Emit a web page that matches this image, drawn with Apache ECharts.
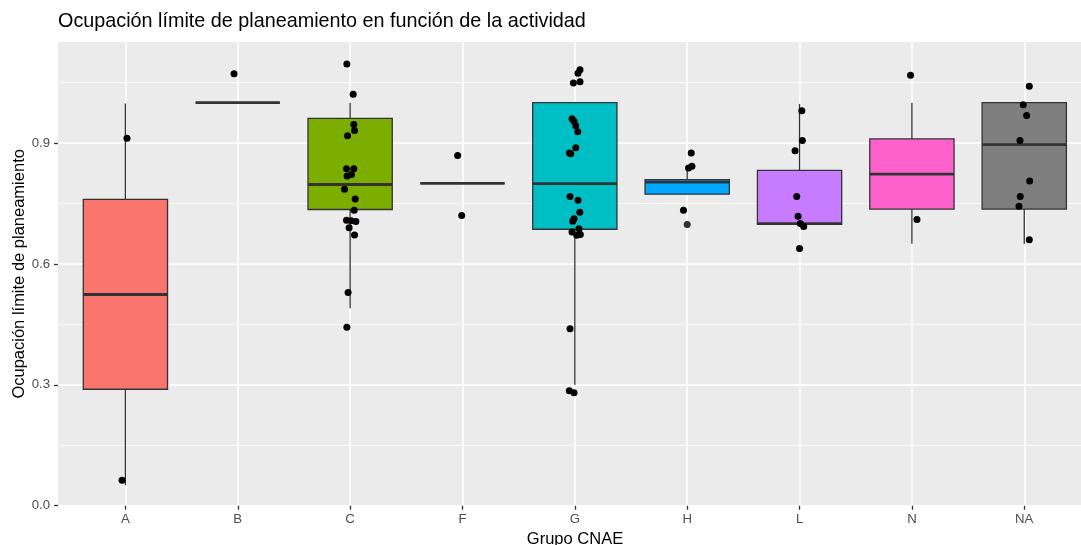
<!DOCTYPE html>
<html><head><meta charset="utf-8">
<script src="https://cdn.jsdelivr.net/npm/echarts@6/dist/echarts.min.js"></script>
<style>html,body{margin:0;padding:0;background:#fff}#c{width:1081px;height:545px}</style>
</head><body><div id="c"></div>
<script>
// ---- data ----
const categories = ['A', 'B', 'C', 'F', 'G', 'H', 'L', 'N', 'NA'];
// box statistics: [lower whisker, Q1, median, Q3, upper whisker]
const boxA  = [0.051, 0.289, 0.524, 0.760, 0.998];
const boxB  = [1.000, 1.000, 1.000, 1.000, 1.000];
const boxC  = [0.490, 0.735, 0.797, 0.961, 1.000];
const boxF  = [0.800, 0.800, 0.800, 0.800, 0.800];
const boxG  = [0.300, 0.686, 0.799, 1.000, 1.000];
const boxH  = [0.773, 0.773, 0.803, 0.809, 0.832];
const boxL  = [0.698, 0.698, 0.700, 0.832, 0.997];
const boxN  = [0.650, 0.736, 0.823, 0.910, 1.000];
const boxNA = [0.650, 0.736, 0.896, 1.000, 1.000];
// boxplot outliers: [category index, value]
const outliers = [[5, 0.698]];
// jittered points: [horizontal jitter (category units), value]
const ptsA = [[0.014, 0.912], [-0.030, 0.063]];
const ptsB = [[-0.033, 1.072]];
const ptsC = [[-0.029, 1.096], [0.027, 1.021], [0.033, 0.946], [0.039, 0.931], [-0.023, 0.918],
  [-0.032, 0.836], [0.033, 0.836], [0.012, 0.822], [-0.027, 0.818], [-0.050, 0.785],
  [0.045, 0.761], [0.036, 0.733], [-0.032, 0.708], [0.009, 0.707], [0.051, 0.705],
  [-0.009, 0.690], [0.039, 0.672], [-0.018, 0.529], [-0.029, 0.443]];
const ptsF = [[-0.043, 0.869], [-0.007, 0.720]];
const ptsG = [[0.046, 1.082], [0.028, 1.073], [-0.013, 1.049], [0.046, 1.052], [-0.025, 0.960],
  [-0.007, 0.954], [0.008, 0.943], [0.026, 0.928], [0.008, 0.888], [-0.036, 0.873],
  [-0.049, 0.875], [-0.043, 0.767], [0.028, 0.758], [0.044, 0.728], [-0.007, 0.712],
  [-0.019, 0.706], [0.037, 0.687], [-0.025, 0.679], [0.017, 0.671], [0.049, 0.673],
  [-0.043, 0.439], [-0.049, 0.285], [-0.007, 0.280]];
const ptsH = [[0.036, 0.875], [0.012, 0.838], [0.042, 0.842], [-0.033, 0.733]];
const ptsL = [[0.020, 0.980], [0.025, 0.906], [-0.040, 0.881], [-0.025, 0.767], [-0.013, 0.718],
  [0.007, 0.700], [0.037, 0.693], [0.000, 0.638]];
const ptsN = [[-0.012, 1.068], [0.045, 0.710]];
const ptsNA = [[0.045, 1.041], [-0.009, 0.995], [0.021, 0.968], [-0.038, 0.906], [0.048, 0.806],
  [-0.036, 0.767], [-0.047, 0.743], [0.045, 0.660]];
const yTickStep = 0.3;
const yMinorStep = 0.15;

// ---- styles ----
const fills = ['#F8766D', '#CD9600', '#7CAE00', '#00BE67', '#00BFC4', '#00A9FF', '#C77CFF', '#FF61CC', '#7F7F7F'];
const FONT = '"Liberation Sans", Arial, Helvetica, sans-serif';

const boxes = [boxA, boxB, boxC, boxF, boxG, boxH, boxL, boxN, boxNA];
const pts = [ptsA, ptsB, ptsC, ptsF, ptsG, ptsH, ptsL, ptsN, ptsNA];
const positions = categories.map((c, i) => i + 1);
const boxData = boxes.map((b, i) => [positions[i]].concat(b));
const jitterData = [];
pts.forEach((list, i) => list.forEach(p => jitterData.push([positions[i] + p[0], p[1]])));
const outlierData = outliers.map(o => [positions[o[0]], o[1]]);

const chart = echarts.init(document.getElementById('c'), null, { renderer: 'canvas' });
const HALF = 0.375;
chart.setOption({
  animation: false,
  backgroundColor: '#fff',
  textStyle: { fontFamily: FONT },
  title: [
    { text: 'Ocupación límite de planeamiento en función de la actividad', left: 58, top: 12, padding: 0,
      textStyle: { fontSize: 19.8, fontWeight: 'normal', color: '#000', fontFamily: FONT } },
    { text: 'Grupo CNAE', left: 575, top: 531, padding: 0, textAlign: 'center',
      textStyle: { fontSize: 16.5, fontWeight: 'normal', color: '#000', fontFamily: FONT } }
  ],
  grid: { left: 58, right: 0, top: 42, bottom: 39.3, show: true, backgroundColor: '#EBEBEB', borderWidth: 0,
    containLabel: false, outerBoundsMode: 'none' },
  xAxis: {
    type: 'value', min: 0.4, max: 9.505,
    axisLine: { show: false },
    axisTick: { show: true, length: 4, lineStyle: { color: '#333', width: 1.3 }, customValues: positions },
    axisLabel: { customValues: positions, formatter: v => categories[Math.round(v) - 1] || '',
      color: '#4D4D4D', fontSize: 13.2, margin: 7, fontFamily: FONT },
    splitLine: { show: true, lineStyle: { color: '#fff', width: 1.6 } }
  },
  yAxis: [
    { type: 'value', min: 0, max: 1.1506, interval: yTickStep,
      name: 'Ocupación límite de planeamiento', nameLocation: 'middle', nameRotate: 90, nameGap: 30,
      nameMoveOverlap: false,
      nameTextStyle: { fontSize: 16.5, color: '#000', fontFamily: FONT },
      axisLine: { show: false },
      axisTick: { show: true, length: 4, lineStyle: { color: '#333', width: 1.3 } },
      axisLabel: { formatter: v => v.toFixed(1), showMaxLabel: false, color: '#4D4D4D', fontSize: 13.2, margin: 8, fontFamily: FONT },
      splitLine: { show: true, showMaxLine: false, lineStyle: { color: '#fff', width: 1.6 } }
    },
    { type: 'value', min: 0, max: 1.1506, interval: yMinorStep, position: 'left',
      axisLine: { show: false }, axisTick: { show: false }, axisLabel: { show: false },
      splitLine: { show: true, showMaxLine: false, lineStyle: { color: '#fff', width: 0.8 } }
    }
  ],
  series: [
    { type: 'custom', z: 2, data: boxData, encode: { x: 0, y: [1, 2, 3, 4, 5] },
      renderItem: function (params, api) {
        const x = api.value(0);
        const lo = api.value(1), q1 = api.value(2), med = api.value(3), q3 = api.value(4), hi = api.value(5);
        const pHi = api.coord([x, hi]), pQ3 = api.coord([x, q3]), pQ1 = api.coord([x, q1]), pLo = api.coord([x, lo]);
        const tl = api.coord([x - HALF, q3]), br = api.coord([x + HALF, q1]);
        const m1 = api.coord([x - HALF, med]), m2 = api.coord([x + HALF, med]);
        const ln = { stroke: '#333333', lineWidth: 1.3 };
        return { type: 'group', children: [
          { type: 'line', shape: { x1: pQ3[0], y1: pQ3[1], x2: pHi[0], y2: pHi[1] }, style: ln },
          { type: 'line', shape: { x1: pQ1[0], y1: pQ1[1], x2: pLo[0], y2: pLo[1] }, style: ln },
          { type: 'rect', shape: { x: tl[0], y: tl[1], width: br[0] - tl[0], height: br[1] - tl[1] },
            style: { fill: fills[params.dataIndex], stroke: '#333333', lineWidth: 1.3 } },
          { type: 'line', shape: { x1: m1[0], y1: m1[1], x2: m2[0], y2: m2[1] }, style: { stroke: '#333333', lineWidth: 2.8 } }
        ] };
      }
    },
    { type: 'scatter', z: 3, data: outlierData, symbolSize: 7, itemStyle: { color: '#333333', opacity: 1 } },
    { type: 'scatter', z: 4, data: jitterData, symbolSize: 7, itemStyle: { color: '#000000', opacity: 1 } }
  ]
});
</script></body></html>
